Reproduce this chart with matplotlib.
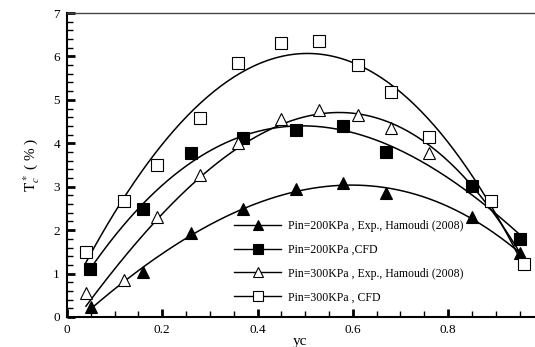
import numpy as np
import matplotlib
matplotlib.use("Agg")
import matplotlib.pyplot as plt
from matplotlib.lines import Line2D
from matplotlib.ticker import MultipleLocator

plt.rcParams['font.family'] = ['Liberation Serif', 'DejaVu Serif']
plt.rcParams['mathtext.fontset'] = 'stix'

# Pin=200KPa, Exp., Hamoudi (2008)
x_200_exp = [0.05, 0.16, 0.26, 0.37, 0.48, 0.58, 0.67, 0.85, 0.95]
y_200_exp = [0.23, 1.04, 1.93, 2.48, 2.94, 3.09, 2.85, 2.31, 1.47]

# Pin=200KPa, CFD
x_200_cfd = [0.048, 0.16, 0.26, 0.37, 0.48, 0.58, 0.67, 0.85, 0.95]
y_200_cfd = [1.10, 2.49, 3.77, 4.12, 4.31, 4.40, 3.81, 3.02, 1.80]

# Pin=300KPa, Exp., Hamoudi (2008)
x_300_exp = [0.04, 0.12, 0.19, 0.28, 0.36, 0.45, 0.53, 0.61, 0.68, 0.76, 0.89, 0.96]
y_300_exp = [0.55, 0.85, 2.30, 3.27, 4.00, 4.55, 4.77, 4.65, 4.35, 3.78, 2.66, 1.26]

# Pin=300KPa, CFD
x_300_cfd = [0.04, 0.12, 0.19, 0.28, 0.36, 0.45, 0.53, 0.61, 0.68, 0.76, 0.89, 0.96]
y_300_cfd = [1.50, 2.67, 3.50, 4.59, 5.85, 6.32, 6.36, 5.80, 5.18, 4.15, 2.68, 1.22]

labels = ["Pin=200KPa , Exp., Hamoudi (2008)",
          "Pin=200KPa ,CFD",
          "Pin=300KPa , Exp., Hamoudi (2008)",
          "Pin=300KPa , CFD"]

series = [
    (x_200_exp, y_200_exp, '^', 'black'),
    (x_200_cfd, y_200_cfd, 's', 'black'),
    (x_300_exp, y_300_exp, '^', 'white'),
    (x_300_cfd, y_300_cfd, 's', 'white'),
]

fig = plt.figure(figsize=(5.35, 3.47), dpi=100)
ax = fig.add_axes([0.125, 0.0865, 0.873, 0.876])

handles = []
for (xs, ys, m, fc), lab in zip(series, labels):
    xs = np.array(xs)
    ys = np.array(ys)
    # smooth trend line (polynomial fit of the points)
    coef = np.polyfit(xs, ys, 3)
    xf = np.linspace(xs.min(), xs.max(), 200)
    ax.plot(xf, np.polyval(coef, xf), color='black', lw=1.1, zorder=2)
    ax.plot(xs, ys, linestyle='none', marker=m, markersize=8.5,
            markerfacecolor=fc, markeredgecolor='black', markeredgewidth=0.8, zorder=3)
    handles.append(Line2D([0], [0], color='black', lw=1.0, marker=m, markersize=7,
                          markerfacecolor=fc, markeredgecolor='black', markeredgewidth=0.8))

leg = ax.legend(handles, labels, loc='lower left', bbox_to_anchor=(0.335, 0.01),
                frameon=False, fontsize=8.5, handlelength=4.0, handletextpad=0.6,
                labelspacing=1.0)

ax.set_xlim(0, 0.98)
ax.set_ylim(0, 7)
ax.xaxis.set_major_locator(MultipleLocator(0.2))
ax.xaxis.set_minor_locator(MultipleLocator(0.05))
ax.yaxis.set_major_locator(MultipleLocator(1))
ax.yaxis.set_minor_locator(MultipleLocator(0.2))
ax.set_xticks([0, 0.2, 0.4, 0.6, 0.8])
ax.set_xticklabels(['0', '0.2', '0.4', '0.6', '0.8'])

ax.tick_params(which='major', direction='in', length=6, width=2, labelsize=9.5, pad=5)
ax.tick_params(which='minor', direction='in', length=4, width=1)
ax.tick_params(top=False, right=False, which='both')

ax.spines['right'].set_visible(False)
ax.spines['left'].set_linewidth(1.5)
ax.spines['bottom'].set_linewidth(1.5)
ax.spines['top'].set_linewidth(1.0)
ax.spines['top'].set_color('#444444')

ax.set_xlabel('yc', fontsize=11, labelpad=-1)
ax.set_ylabel(r'$\mathrm{T}_c^*$ ( % )', fontsize=11, labelpad=8)

fig.savefig("out.png", dpi=100)
